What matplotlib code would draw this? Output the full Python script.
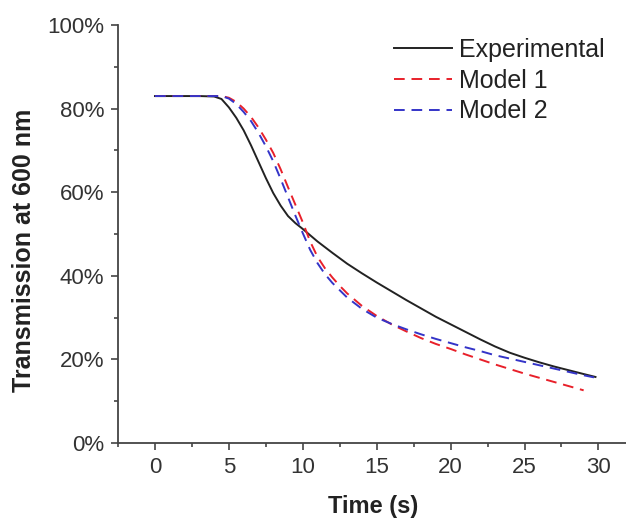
import matplotlib
matplotlib.use("Agg")
import matplotlib.pyplot as plt
from matplotlib.ticker import MultipleLocator, FuncFormatter

plt.rcParams['font.family'] = ['Liberation Sans', 'DejaVu Sans']

# Experimental
t_exp = [0, 1, 2, 3, 4, 4.5, 5, 5.5, 6, 6.5, 7, 7.5, 8, 8.5, 9, 9.5, 10, 11, 12, 13, 14,
         15, 16, 17, 18, 19, 20, 21, 22, 23, 24, 25, 26, 27, 28, 29, 29.8]
y_exp = [83, 83, 83, 83, 82.9, 82.3, 80.3, 77.8, 74.8, 71.2, 67.3, 63.4, 59.8, 56.8, 54.3,
         52.6, 51.2, 48.2, 45.5, 42.9, 40.6, 38.4, 36.3, 34.2, 32.2, 30.2, 28.4, 26.6, 24.8,
         23.1, 21.6, 20.4, 19.3, 18.3, 17.4, 16.5, 15.8]

# Model 1
t_m1 = [0, 1, 2, 3, 4, 4.5, 5, 5.5, 6, 6.5, 7, 7.5, 8, 8.5, 9, 9.5, 10, 10.5, 11, 11.5, 12,
        12.5, 13, 14, 15, 16, 17, 18, 19, 20, 21, 22, 23, 24, 25, 26, 27, 28, 29]
y_m1 = [83, 83, 83, 83, 83, 83, 82.6, 81.6, 80, 78, 75.5, 72.6, 69.4, 65.5, 61.2, 57, 52.8,
        48.2, 44.5, 41.8, 39.6, 37.6, 35.8, 32.8, 30.4, 28.4, 26.7, 25.1, 23.7, 22.5, 21.2,
        20, 18.8, 17.7, 16.6, 15.6, 14.6, 13.6, 12.6]

# Model 2
t_m2 = [0, 1, 2, 3, 4, 4.5, 5, 5.5, 6, 6.5, 7, 7.5, 8, 8.5, 9, 9.5, 10, 10.5, 11, 11.5, 12,
        13, 14, 15, 16, 17, 18, 19, 20, 21, 22, 23, 24, 25, 26, 27, 28, 29, 29.7]
y_m2 = [83, 83, 83, 83, 83, 83, 82.4, 81.1, 79.2, 77, 74.2, 71, 67.4, 63.2, 58.8, 54.4,
        50.2, 46.2, 43, 40.4, 38.3, 34.8, 32.1, 30, 28.5, 27.2, 26, 24.9, 23.9, 22.9, 22, 21,
        20.2, 19.4, 18.6, 17.8, 17, 16.2, 15.7]

labels = ["Experimental", "Model 1", "Model 2"]

fig = plt.figure(figsize=(6.26, 5.2), dpi=100)
ax = fig.add_axes([118 / 626, 77 / 520, 510 / 626, 418 / 520])

ax.plot(t_exp, y_exp, color='#222222', lw=1.4, label=labels[0])
ax.plot(t_m1, y_m1, color='#e8202a', lw=1.4, dashes=(5.5, 3.5), label=labels[1])
ax.plot(t_m2, y_m2, color='#3434c8', lw=1.4, dashes=(5.5, 3.5), label=labels[2])

ax.set_xlim(-2.5, 32)
ax.set_ylim(0, 100)
ax.xaxis.set_major_locator(MultipleLocator(5))
ax.xaxis.set_minor_locator(MultipleLocator(2.5))
ax.yaxis.set_major_locator(MultipleLocator(20))
ax.yaxis.set_minor_locator(MultipleLocator(10))
ax.yaxis.set_major_formatter(FuncFormatter(lambda v, p: f"{int(v)}%"))
ax.xaxis.set_major_formatter(FuncFormatter(lambda v, p: f"{int(v)}"))

for s in ['top', 'right']:
    ax.spines[s].set_visible(False)
for s in ['left', 'bottom']:
    ax.spines[s].set_color('#444444')
    ax.spines[s].set_linewidth(1.3)

ax.tick_params(axis='both', which='major', length=5, width=1.2, color='#444444',
               labelsize=16, labelcolor='#333333', pad=5)
ax.tick_params(axis='both', which='minor', length=3, width=1.2, color='#444444')

ax.set_xlabel("Time (s)", fontsize=17, fontweight='bold', labelpad=12, color='#222222')
ax.set_ylabel("Transmission at 600 nm", fontsize=18, fontweight='bold', color='#222222')
ax.yaxis.set_label_coords(-0.161, 0.462)

leg = fig.legend(loc='upper right', bbox_to_anchor=(605 / 626, 482 / 520), frameon=False,
                 fontsize=18, handlelength=2.3, handletextpad=0.3, labelspacing=0.27,
                 borderpad=0, borderaxespad=0)
for t in leg.get_texts():
    t.set_color('#222222')

fig.savefig("out.png", dpi=100)
